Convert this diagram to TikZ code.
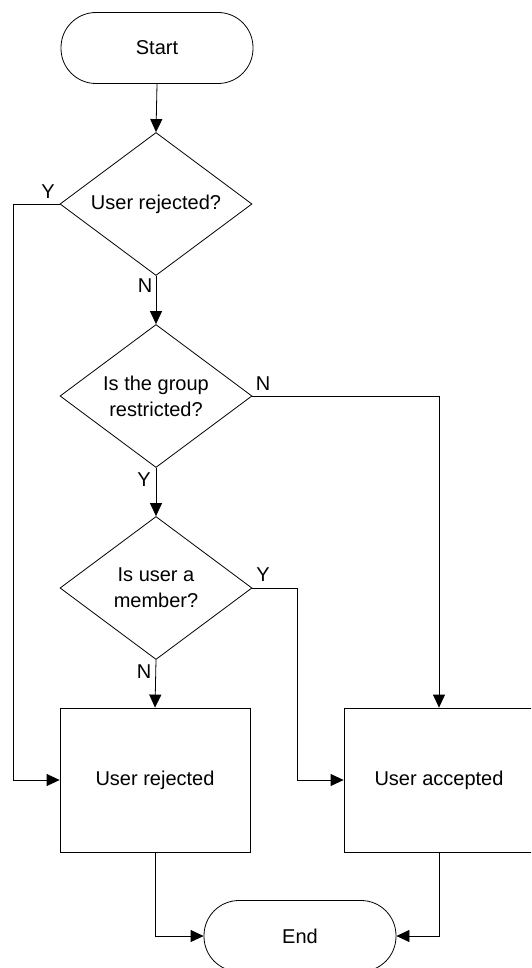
\documentclass[tikz,border=0pt]{standalone}
\usepackage{fontspec}
\setmainfont{Liberation Sans}
\usetikzlibrary{shapes.geometric,arrows.meta}
\begin{document}
\begin{tikzpicture}[x=1pt,y=-1pt,
  every node/.style={font=\fontsize{20}{26}\selectfont},
  line/.style={draw=black,line width=0.8pt},
  arr/.style={line,-{Triangle[length=13pt,width=12pt]}},
  term/.style={line,rectangle,rounded corners=35pt,minimum width=192pt,minimum height=71pt,inner sep=0pt},
  decision/.style={line,diamond,aspect=1.34,minimum width=192pt,minimum height=143pt,inner sep=0pt,align=center},
  proc/.style={line,rectangle,minimum width=190pt,minimum height=144pt,inner sep=0pt},
  lbl/.style={inner sep=0pt}]
\useasboundingbox (0,0) rectangle (531,968);
\clip (0,0) rectangle (531,968);
\node[term] (start) at (157,48) {Start};
\node[decision] (d1) at (156,204) {User rejected?};
\node[decision] (d2) at (156,396) {Is the group\\restricted?};
\node[decision] (d3) at (156,588) {Is user a\\member?};
\node[proc] (rej) at (155,780) {User rejected};
\node[proc] (acc) at (439,780) {User accepted};
\node[term] (end) at (300,936) {End};
\coordinate (c1) at (13,204);
\coordinate (c2) at (297,588);
\draw[arr] (start.south) -- (d1.north);
\draw[arr] (d1.west) -- (c1) |- (rej.west);
\draw[arr] (d1.south) -- (d2.north);
\draw[arr] (d2.east) -| (acc.north);
\draw[arr] (d2.south) -- (d3.north);
\draw[arr] (d3.east) -- (c2) |- (acc.west);
\draw[arr] (d3.south) -- (rej.north);
\draw[arr] (rej.south) |- (end.west);
\draw[arr] (acc.south) |- (end.east);
\node[lbl] (y1) at (48,192) {Y};
\node[lbl] (n1) at (145,286) {N};
\node[lbl] (n2) at (263,384) {N};
\node[lbl] (y2) at (144,480) {Y};
\node[lbl] (y3) at (263,575) {Y};
\node[lbl] (n3) at (144,672) {N};
\end{tikzpicture}
\end{document}
